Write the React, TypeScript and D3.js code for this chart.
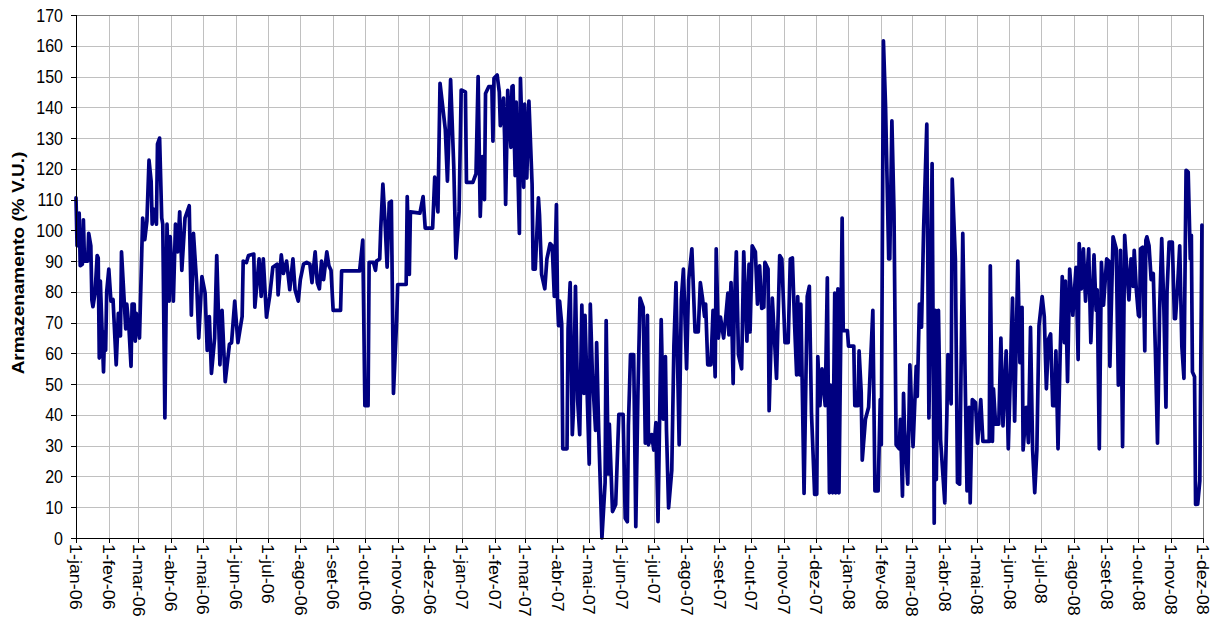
import React from 'react';
import * as d3 from 'd3';

// Days elapsed since 1-jan-2006 for each reading, and the storage value (% V.U.)
const dayOffsets: number[] = [
  0, 1, 3, 4, 6, 7, 8, 11, 12, 14, 15, 16, 18, 20, 21, 22, 23, 26, 27, 28, 29, 31, 33, 35, 38, 40, 42, 43, 47, 48, 50, 52, 53, 55, 56, 57, 60, 63, 65, 67, 69, 71, 72, 73, 76, 77, 79, 81, 82, 84, 86, 88, 89, 92, 94, 96, 98,
  100, 103, 107, 109, 111, 114, 116, 119, 122, 124, 126, 128, 131, 133, 136, 138, 141, 145, 147, 150, 153, 157, 158, 161, 163, 168, 169, 173, 175, 177, 180, 183, 186, 190, 191, 194,
  196, 199, 202, 205, 207, 210, 212, 215, 218, 221, 223, 226, 228, 230, 232, 234, 237, 239, 241, 243, 250, 251, 268, 271, 273, 276, 277, 281, 283, 284, 287, 288, 290, 292, 294, 296,
  298, 300, 303, 304, 312, 313, 315, 316, 325, 328, 330, 337, 339, 342, 344, 349, 351, 354, 357, 359, 362, 364, 368, 369, 375, 378, 380, 382, 384, 386, 387, 390, 393, 394, 395,
  398, 400, 401, 404, 405, 406, 408, 411, 412, 413, 415, 416, 419, 420, 423, 424, 426, 428, 431, 432, 434, 437, 438, 440, 443, 445, 448, 450, 452, 454, 455, 456, 457, 459, 460, 464, 465, 467, 469, 470, 472, 474, 476, 478, 480, 481, 483, 485, 486, 488, 491, 492, 494,
  497, 500, 501, 503, 504, 507, 510, 513, 517, 519, 521, 522, 524, 527, 529, 531, 533, 536, 538, 540, 541, 544, 546, 548, 550, 553, 555, 557, 558, 560, 563, 565, 567, 570, 572, 574, 577, 579, 582, 585, 588, 590, 592, 594, 595, 597, 600, 602, 604, 605, 607, 609, 612, 614, 616, 617, 619, 621, 622, 624, 626, 629, 631, 634, 636, 637, 639, 642, 644, 646, 648, 650, 651, 654, 655, 658, 662, 665, 667, 670, 673, 675, 677, 679, 681, 682, 684, 685, 688,
  691, 693, 695, 698, 700, 701, 703, 705, 708, 710, 711, 712, 713, 715, 717, 718, 720, 721, 724, 725, 729, 730, 735, 736, 739, 740, 742, 743, 746, 749, 753, 755, 758, 760, 761, 763, 765, 768, 769, 771, 773, 775, 778, 779, 781, 782, 783, 786, 788,
  791, 794, 795, 797, 799, 801, 804, 806, 809, 811, 812, 813, 815, 817, 821, 823, 824, 827, 828, 831, 833, 835, 838, 842, 844, 845, 847, 850, 852, 855, 857, 863, 864, 866, 867, 869, 872, 874, 876, 879, 881, 885, 887, 890, 892, 894, 895,
  898, 900, 902, 904, 906, 908, 910, 913, 915, 917, 919, 921, 923, 925, 926, 928, 930, 932, 934, 935, 937, 939, 942, 945, 947, 948, 950, 952, 954, 957, 959, 962, 964, 965, 967, 969, 971, 974, 976, 977, 980, 983, 985, 987, 989, 991,
  993, 995, 997, 999, 1000, 1002, 1004, 1005, 1006, 1008, 1010, 1011, 1012, 1014, 1016, 1018, 1020, 1022, 1024, 1026, 1028, 1030, 1031, 1033, 1036, 1038, 1039, 1041, 1043, 1045, 1047, 1049, 1051, 1053, 1054, 1055, 1057, 1058, 1060, 1062, 1064,
];

const storage: number[] = [
  110.6, 95, 105.6, 88.5, 89, 103.4, 90, 90, 99, 95, 77.4, 75.2, 79.6, 91.8, 91, 58.5, 83.5, 54, 67, 61, 80, 87.4, 77, 77.5, 56.3, 73, 65.7, 93, 68, 76, 68.5, 55.8, 76, 76, 64, 73, 65, 104, 97, 103, 122.8, 116, 102, 107, 102, 128, 130, 104, 102, 39, 102, 77, 98, 77, 102, 93, 106,
  87, 104, 108, 72.4, 99, 83, 65, 85, 79.6, 61, 72, 53.5, 65, 91.8, 56.3, 74, 50.8, 63, 63.5, 77, 63.5, 72, 90, 89.5, 91.8, 92.3, 75, 90.7, 78.5, 90.7, 71.8, 78.5, 88, 89, 79, 92,
  86, 90, 80.7, 90.7, 80.7, 77, 84, 89, 89.6, 89, 83, 93, 83, 81, 90, 84, 93, 88.5, 87, 74, 74, 86.8, 86.8, 96.8, 43, 43, 89.6, 89.6, 87, 90, 90.7, 100.7, 115, 103, 88, 109,
  109.5, 47, 70.7, 82.4, 82.4, 111, 85.7, 106, 105.6, 111, 100.7, 100.7, 117.3, 106, 147.8, 132.8, 116, 149, 120.6, 91, 106, 145.6, 145, 115.6, 115.6, 118.4, 150, 104.5, 124, 110, 144.5, 146.7, 146.7, 129, 149.4,
  150.5, 145, 134, 143, 130.6, 108.4, 145.5, 127, 146.7, 147, 117.8, 141.7, 99, 149.4, 114, 141, 117, 142, 115, 87.4, 87.4, 110.6, 105, 85.7, 81, 90.7, 95.7, 95, 78.5, 108.4, 77, 69, 77, 69.5, 29, 29, 68, 83, 33.6, 41, 81.8, 45, 33.6, 75.7, 47, 72.4, 47.5, 24, 76, 53, 35, 63.5, 34,
  0, 18, 70.7, 20.8, 37, 8.6, 10.9, 40.2, 40.2, 6.4, 5.3, 36.4, 59.6, 59.6, 3.7, 47, 78, 75, 30.8, 72.4, 30.3, 33.6, 28.6, 37.5, 5.3, 71, 38.6, 59, 35, 9.8, 22, 62.4, 83, 30.3, 77.4, 87.4, 55, 84, 94, 67, 67, 83, 78, 72, 76, 56.3, 56.3, 74, 52.4, 94, 65, 71.8, 65, 71.8, 79.6, 66, 83, 50.2, 74, 93, 59.6, 55, 93, 64, 89, 67, 95, 93, 76, 88.5, 74.6, 75, 89.6, 87.4, 41.4, 78, 51.9, 91.8, 90.7, 63.5, 63.5, 90.7, 91, 70, 53, 78.5, 53, 76, 14.5,
  78.5, 81.8, 40.8, 14.2, 14.2, 59, 43, 55, 43, 84.6, 43, 14.7, 49.7, 14.7, 79.6, 14.7, 81, 14.7, 104, 67.4, 67.4, 62.4, 62.4, 43, 43, 60.8, 47.5, 25.3, 38.6, 42.5, 74, 15.3, 15.3, 45, 30.3, 161.6, 140.6, 90.7, 90.7, 135.6, 106, 30.3, 29, 38.6, 13.6, 47, 35, 17.5, 56.3,
  29.7, 55.8, 46, 76, 68.5, 100.7, 134.5, 39, 121.7, 4.8, 74, 19, 74, 32, 11.4, 40.8, 59.6, 43.6, 116.7, 90.7, 18, 17.5, 99, 15.3, 42.5, 11.4, 45, 44, 30.8, 45, 31.4, 31.4, 88.5, 31.4, 48.5, 37, 37, 65, 36.4, 60.8, 29, 78, 38, 90, 57, 75, 28.6,
  42.5, 31, 68.5, 28.6, 14.7, 28.6, 69, 78.5, 72, 48.5, 64.6, 66.3, 43, 43, 60.8, 29, 59.6, 85, 63.5, 83.5, 50.8, 87.4, 72.4, 88, 58, 95.7, 81, 94, 77, 94, 63.5, 92, 74, 80.7, 29, 89.6, 75.7, 90.7, 90, 55.8, 97.9, 94, 49.7, 93.5, 29.7, 98.4,
  87.4, 77.4, 90.7, 81.8, 93.5, 80.7, 72.4, 72, 94, 94.5, 60.8, 96.8, 97.9, 95, 84, 86, 60.8, 30.8, 74, 97.3, 75, 42.5, 80, 96.2, 96.2, 71.3, 71.3, 81.8, 95, 62.4, 51.9, 119.5, 119, 90.7, 98.4, 54, 52.4, 10.9, 11, 18.6, 101.7,
];

const yTickValues: number[] = [0, 10, 20, 30, 40, 50, 60, 70, 80, 90, 100, 110, 120, 130, 140, 150, 160, 170];

const monthLabels: string[] = [
  '1-jan-06', '1-fev-06', '1-mar-06', '1-abr-06', '1-mai-06', '1-jun-06', '1-jul-06', '1-ago-06', '1-set-06', '1-out-06', '1-nov-06', '1-dez-06',
  '1-jan-07', '1-fev-07', '1-mar-07', '1-abr-07', '1-mai-07', '1-jun-07', '1-jul-07', '1-ago-07', '1-set-07', '1-out-07', '1-nov-07', '1-dez-07',
  '1-jan-08', '1-fev-08', '1-mar-08', '1-abr-08', '1-mai-08', '1-jun-08', '1-jul-08', '1-ago-08', '1-set-08', '1-out-08', '1-nov-08', '1-dez-08',
];

const yTitle = 'Armazenamento (% V.U.)';

const W = 1217;
const H = 620;
const plot = { left: 76, right: 1203, top: 15, bottom: 538 };
const FONT = "Arial, 'Liberation Sans', Helvetica, sans-serif";

export default function App() {
  const start = new Date(Date.UTC(2006, 0, 1));
  const end = new Date(Date.UTC(2008, 11, 1));
  const x = d3.scaleUtc().domain([start, end]).range([plot.left, plot.right]);
  const y = d3.scaleLinear().domain([0, 170]).range([plot.bottom, plot.top]);

  const months = monthLabels.map((label, i) => ({ label, date: d3.utcMonth.offset(start, i) }));
  const data = dayOffsets.map((d, i) => ({ date: d3.utcDay.offset(start, d), v: storage[i] }));

  const line = d3
    .line<{ date: Date; v: number }>()
    .x((d) => x(d.date))
    .y((d) => y(d.v));

  const px = (v: number) => Math.round(v) + 0.5;

  return (
    <svg
      width={W}
      height={H}
      style={{ position: 'absolute', left: 0, top: 0, background: '#fff' }}
      fontFamily={FONT}
    >
      <rect x={0} y={0} width={W} height={H} fill="#fff" />
      {/* horizontal gridlines */}
      {yTickValues
        .filter((t) => t > 0 && t < 170)
        .map((t) => (
          <line key={'hg' + t} x1={plot.left} x2={plot.right} y1={px(y(t))} y2={px(y(t))} stroke="#c0c0c0" strokeWidth={1} />
        ))}
      {/* vertical gridlines */}
      {months.slice(1, -1).map((m) => (
        <line key={'vg' + m.label} x1={px(x(m.date))} x2={px(x(m.date))} y1={plot.top} y2={plot.bottom} stroke="#c0c0c0" strokeWidth={1} />
      ))}
      {/* top / right border */}
      <line x1={plot.left} x2={plot.right} y1={px(plot.top)} y2={px(plot.top)} stroke="#808080" strokeWidth={1} />
      <line x1={px(plot.right)} x2={px(plot.right)} y1={plot.top} y2={plot.bottom} stroke="#808080" strokeWidth={1} />

      {/* data line */}
      <path d={line(data) || ''} fill="none" stroke="#000080" strokeWidth={3.7} strokeLinejoin="round" strokeLinecap="round" />

      {/* axes */}
      <line x1={px(plot.left)} x2={px(plot.left)} y1={plot.top} y2={plot.bottom + 0.5} stroke="#000" strokeWidth={1} />
      <line x1={plot.left} x2={plot.right + 1} y1={px(plot.bottom)} y2={px(plot.bottom)} stroke="#000" strokeWidth={1} />

      {yTickValues.map((t) => (
        <g key={'yt' + t}>
          <line x1={plot.left - 5} x2={plot.left} y1={px(y(t))} y2={px(y(t))} stroke="#000" strokeWidth={1} />
          <text
            transform={`translate(${plot.left - 13},${y(t)}) scale(1,1.13)`}
            textAnchor="end"
            dy="0.36em"
            fontSize={16}
            fill="#000"
          >
            {t}
          </text>
        </g>
      ))}

      {months.map((m) => (
        <g key={'xt' + m.label}>
          <line x1={px(x(m.date))} x2={px(x(m.date))} y1={plot.bottom} y2={plot.bottom + 5} stroke="#000" strokeWidth={1} />
          <text
            transform={`translate(${x(m.date)},${plot.bottom + 6}) scale(1,1.12) rotate(90)`}
            textAnchor="start"
            dy="0.36em"
            fontSize={16}
            fill="#000"
          >
            {m.label}
          </text>
        </g>
      ))}

      <text
        transform={`translate(24,263) scale(1,1.15) rotate(-90)`}
        textAnchor="middle"
        fontSize={16.5}
        fontWeight="bold"
        fill="#000"
      >
        {yTitle}
      </text>
    </svg>
  );
}
